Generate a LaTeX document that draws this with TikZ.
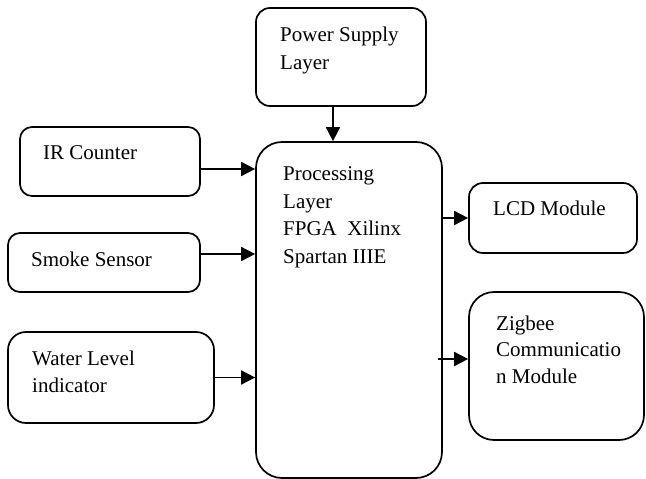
\documentclass[tikz,border=0pt]{standalone}
\usepackage{fontspec}
\setmainfont{Liberation Serif}
\usetikzlibrary{arrows.meta}

\begin{document}
\begin{tikzpicture}[x=1pt,y=-1pt,
  blockbox/.style={draw, line width=1.7pt, rounded corners=#1, inner sep=0pt},
  blockbox/.default=14pt,
  % multi-line texts: the base anchor sits on the last line's baseline
  label/.style={anchor=base west, align=left, inner sep=0pt,
    font=\fontsize{21}{27.5}\selectfont},
  link/.style={line width=1.7pt, -{Triangle[length=14pt,width=14pt]}}]
  \useasboundingbox (0,0) rectangle (646,479);

  % blocks
  \node[blockbox, minimum width=170pt, minimum height=98pt] (power) at (341,57) {};
  \node[blockbox=26pt, minimum width=186pt, minimum height=336pt] (proc) at (349,310) {};
  \node[blockbox=12pt, minimum width=180pt, minimum height=69pt] (ir) at (110,161.5) {};
  \node[blockbox=12pt, minimum width=192pt, minimum height=59pt] (smoke) at (104,262.5) {};
  \node[blockbox=18pt, minimum width=206pt, minimum height=91pt] (water) at (111,377.5) {};
  \node[blockbox, minimum width=168pt, minimum height=70pt] (lcd) at (553,218) {};
  \node[blockbox=25pt, minimum width=175pt, minimum height=148pt] (zig) at (556.5,366) {};

  % block texts
  \node[label] (powert) at (280,69) {Power Supply\\Layer};
  \node[label] (proct) at (283,263) {Processing\\Layer\\FPGA\ \ Xilinx\\Spartan IIIE};
  \node[label] (irt) at (43,159) {IR Counter};
  \node[label] (smoket) at (31,266) {Smoke Sensor};
  \node[label] (watert) at (32,392.5) {Water Level\\indicator};
  \node[label, font=\fontsize{21}{26.5}\selectfont] (zigt) at (496,383) {Zigbee\\Communicatio\\n Module};
  \node[label] (lcdt) at (493,215) {LCD Module};

  % connector end points
  \coordinate (pwrout) at ([xshift=-8pt]power.south);
  \coordinate (irout) at ([yshift=-7.5pt]ir.east);
  \coordinate (smokeout) at ([yshift=8.5pt]smoke.east);
  \coordinate (zigfrom) at ([xshift=-5pt,yshift=7pt]proc.east |- zig.west);

  % connectors
  \draw[link] (pwrout) -- (pwrout |- proc.north);
  \draw[link] (irout) -- (proc.west |- irout);
  \draw[link] (smokeout) -- (proc.west |- smokeout);
  \draw[link] (water.east) -- (proc.west |- water.east);
  \draw[link] (proc.east |- lcd.west) -- (lcd.west);
  \draw[link] (zigfrom) -- (zigfrom -| zig.west);
\end{tikzpicture}
\end{document}
